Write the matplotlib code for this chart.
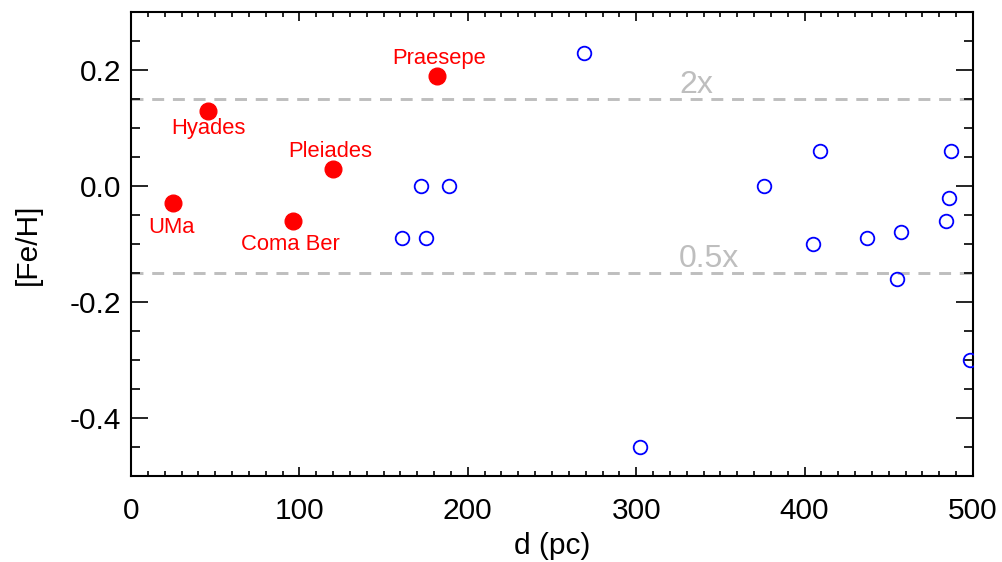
import matplotlib
matplotlib.use("Agg")
import matplotlib.pyplot as plt
from matplotlib.ticker import MultipleLocator

plt.rcParams['font.family'] = ['Liberation Sans', 'DejaVu Sans']

# Named clusters (filled red)
cluster_names = ["UMa", "Hyades", "Coma Ber", "Pleiades", "Praesepe"]
cluster_d = [25, 46, 96, 120, 182]
cluster_feh = [-0.03, 0.13, -0.06, 0.03, 0.19]
# label offsets (points) relative to each cluster point
label_dx = [-1, 0, -1.5, -2, 1.5]
label_dy = [-21.5, -16.5, -21, 8.5, 8.5]

# Other clusters (open blue)
other_d = [161, 172, 175, 189, 269, 302, 376, 405, 409, 437, 455, 457, 484, 486, 487, 498]
other_feh = [-0.09, 0.0, -0.09, 0.0, 0.23, -0.45, 0.0, -0.10, 0.06, -0.09, -0.16, -0.08,
             -0.06, -0.02, 0.06, -0.30]

ref_levels = [0.15, -0.15]
ref_labels = ["2x", "0.5x"]

fig = plt.figure(figsize=(10.03, 5.62), dpi=100)
ax = fig.add_axes([131/1003, 1-476/562, 842/1003, 464/562])

gray = '#bebebe'
for lev, lab in zip(ref_levels, ref_labels):
    ax.axhline(lev, color=gray, lw=2.1, dashes=(4.1, 3.0), zorder=1)
    ax.annotate(lab, xy=(325.5, lev), xytext=(0, 4.5), textcoords='offset points',
                color=gray, fontsize=23, ha='left', va='baseline')

ax.plot(other_d, other_feh, 'o', mfc='none', mec='blue', mew=1.3, ms=9.8,
        linestyle='none', zorder=3)
ax.plot(cluster_d, cluster_feh, 'o', color='red', ms=12, linestyle='none', zorder=3)

for n, x, y, dx, dy in zip(cluster_names, cluster_d, cluster_feh, label_dx, label_dy):
    ax.annotate(n, xy=(x, y), xytext=(dx, dy), textcoords='offset points',
                color='red', fontsize=15.8, ha='center', va='baseline')

ax.set_xlim(0, 500)
ax.set_ylim(-0.5, 0.3)
ax.xaxis.set_major_locator(MultipleLocator(100))
ax.xaxis.set_minor_locator(MultipleLocator(10))
ax.yaxis.set_minor_locator(MultipleLocator(0.05))
ax.set_yticks([0.2, 0.0, -0.2, -0.4])
ax.set_yticklabels(["0.2", "0.0", "-0.2", "-0.4"])

ax.tick_params(axis='x', which='major', direction='in', length=6.5, width=1.2,
               top=True, labelsize=21.5, pad=15)
ax.tick_params(axis='x', which='minor', direction='in', length=3.4, width=1.2, top=True)
ax.tick_params(axis='y', which='major', direction='in', length=12.2, width=1.2,
               right=True, labelsize=21.5, pad=7)
ax.tick_params(axis='y', which='minor', direction='in', length=6.5, width=1.2, right=True)
for s in ax.spines.values():
    s.set_linewidth(1.5)

ax.set_xlabel("d (pc)", fontsize=21.5, labelpad=5)
ax.set_ylabel("[Fe/H]", fontsize=21.5, labelpad=20)

fig.savefig("out.png", dpi=100)
